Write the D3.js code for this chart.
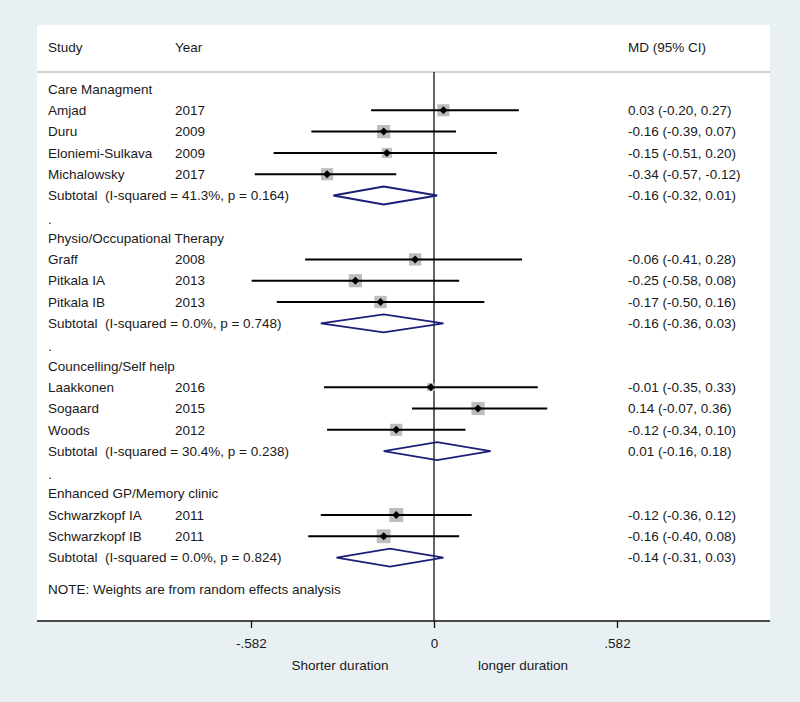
<!DOCTYPE html>
<html><head><meta charset="utf-8">
<script src="https://cdn.jsdelivr.net/npm/d3@7"></script>
<style>body{margin:0;background:#e9f0f3;} svg{display:block;} text{font-family:"Liberation Sans",Arial,sans-serif;font-size:13.5px;fill:#1a1a1a;white-space:pre;}</style>
</head><body><svg id="c" width="800" height="702"></svg>
<script>
// ---- data ----
const groups = ["Care Managment","Physio/Occupational Therapy","Councelling/Self help","Enhanced GP/Memory clinic"];
const studies = ["Amjad","Duru","Eloniemi-Sulkava","Michalowsky","Graff","Pitkala IA","Pitkala IB","Laakkonen","Sogaard","Woods","Schwarzkopf IA","Schwarzkopf IB"];
const studyGroup = [0,0,0,0,1,1,1,2,2,2,3,3];
const years = ["2017","2009","2009","2017","2008","2013","2013","2016","2015","2012","2011","2011"];
const md = [0.03,-0.16,-0.15,-0.34,-0.06,-0.25,-0.17,-0.01,0.14,-0.12,-0.12,-0.16];
const lo = [-0.20,-0.39,-0.51,-0.57,-0.41,-0.58,-0.50,-0.35,-0.07,-0.34,-0.36,-0.40];
const hi = [0.27,0.07,0.20,-0.12,0.28,0.08,0.16,0.33,0.36,0.10,0.12,0.08];
const weights = [26,31,18,26,27,31,27,11,31,26,35,34];
const subLabels = ["Subtotal  (I-squared = 41.3%, p = 0.164)","Subtotal  (I-squared = 0.0%, p = 0.748)","Subtotal  (I-squared = 30.4%, p = 0.238)","Subtotal  (I-squared = 0.0%, p = 0.824)"];
const subMd = [-0.16,-0.16,0.01,-0.14];
const subLo = [-0.32,-0.36,-0.16,-0.31];
const subHi = [0.01,0.03,0.18,0.03];
const tickValues = [-0.582,0,0.582];
const tickLabels = ["-.582","0",".582"];
const axisNotes = ["Shorter duration","longer duration"];
const note = "NOTE: Weights are from random effects analysis";

// ---- layout ----
const svg = d3.select("#c");
const panel = {x0:37, x1:770, y0:25, y1:621};
const colStudy = 48, colYear = 175, colMD = 628;
const x = d3.scaleLinear().domain([-0.582,0.582]).range([251,617]);
const fmt = v => (v<0?"-":"") + Math.abs(v).toFixed(2);
const ciText = (m,l,h) => `${fmt(m)} (${fmt(l)}, ${fmt(h)})`;

const rows = [];
groups.forEach((g,gi)=>{
  rows.push({type:"group", label:g});
  studies.forEach((s,i)=>{ if(studyGroup[i]===gi) rows.push({type:"study", i}); });
  rows.push({type:"sub", gi});
  if(gi < groups.length-1) rows.push({type:"dot"});
});
const y = d3.scalePoint().domain(d3.range(rows.length)).range([89, 89 + 21.3*(rows.length-1)]);

svg.append("rect").attr("x",panel.x0).attr("y",panel.y0).attr("width",panel.x1-panel.x0).attr("height",panel.y1-panel.y0).attr("fill","#fff");

svg.append("text").attr("x",colStudy).attr("y",47).attr("dy","0.35em").text("Study");
svg.append("text").attr("x",colYear).attr("y",47).attr("dy","0.35em").text("Year");
svg.append("text").attr("x",colMD).attr("y",47).attr("dy","0.35em").text("MD (95% CI)");
svg.append("line").attr("x1",panel.x0).attr("x2",panel.x1).attr("y1",72).attr("y2",72).attr("stroke","#c4c4c4").attr("stroke-width",1.5);

svg.append("line").attr("x1",x(0)).attr("x2",x(0)).attr("y1",72).attr("y2",panel.y1).attr("stroke","#111").attr("stroke-width",1.3);

const size = d3.scaleSqrt().domain([0,30]).range([0,13]);

rows.forEach((r,k)=>{
  const yy = y(k);
  if(r.type==="group"){
    svg.append("text").attr("x",colStudy).attr("y",yy).attr("dy","0.35em").text(r.label);
  } else if(r.type==="dot"){
    svg.append("text").attr("x",colStudy).attr("y",yy+2).attr("dy","0.35em").text(".");
  } else if(r.type==="study"){
    const i = r.i;
    svg.append("text").attr("x",colStudy).attr("y",yy).attr("dy","0.35em").text(studies[i]);
    svg.append("text").attr("x",colYear).attr("y",yy).attr("dy","0.35em").text(years[i]);
    svg.append("text").attr("x",colMD).attr("y",yy).attr("dy","0.35em").text(ciText(md[i],lo[i],hi[i]));
    const s = size(weights[i]);
    svg.append("rect").attr("x",x(md[i])-s/2).attr("y",yy-s/2).attr("width",s).attr("height",s).attr("fill","#bdbdbd");
    svg.append("line").attr("x1",x(lo[i])).attr("x2",x(hi[i])).attr("y1",yy).attr("y2",yy).attr("stroke","#000").attr("stroke-width",2);
    const d = 4;
    svg.append("path").attr("d",`M${x(md[i])-d},${yy}L${x(md[i])},${yy-d}L${x(md[i])+d},${yy}L${x(md[i])},${yy+d}Z`).attr("fill","#000");
  } else if(r.type==="sub"){
    const gi = r.gi;
    svg.append("text").attr("x",colStudy).attr("y",yy).attr("dy","0.35em").text(subLabels[gi]);
    svg.append("text").attr("x",colMD).attr("y",yy).attr("dy","0.35em").text(ciText(subMd[gi],subLo[gi],subHi[gi]));
    const h = 9;
    svg.append("path").attr("d",`M${x(subLo[gi])},${yy}L${x(subMd[gi])},${yy-h}L${x(subHi[gi])},${yy}L${x(subMd[gi])},${yy+h}Z`)
      .attr("fill","none").attr("stroke","#1b1f78").attr("stroke-width",1.8);
  }
});

svg.append("text").attr("x",colStudy).attr("y",589).attr("dy","0.35em").text(note);

const axis = d3.axisBottom(x).tickValues(tickValues).tickFormat((d,i)=>tickLabels[i]).tickSize(7).tickPadding(10);
const ag = svg.append("g").attr("transform",`translate(0,${panel.y1})`).call(axis);
ag.select(".domain").remove();
ag.selectAll(".tick line").attr("stroke","#111").attr("stroke-width",1.3);
ag.selectAll(".tick text").style("font-size","13.5px").attr("fill","#1a1a1a").style("font-family","'Liberation Sans',Arial,sans-serif");
svg.append("line").attr("x1",panel.x0).attr("x2",panel.x1).attr("y1",panel.y1).attr("y2",panel.y1).attr("stroke","#111").attr("stroke-width",1.3);

svg.append("text").attr("x",340).attr("y",665).attr("dy","0.35em").attr("text-anchor","middle").text(axisNotes[0]);
svg.append("text").attr("x",523).attr("y",665).attr("dy","0.35em").attr("text-anchor","middle").text(axisNotes[1]);
</script></body></html>
